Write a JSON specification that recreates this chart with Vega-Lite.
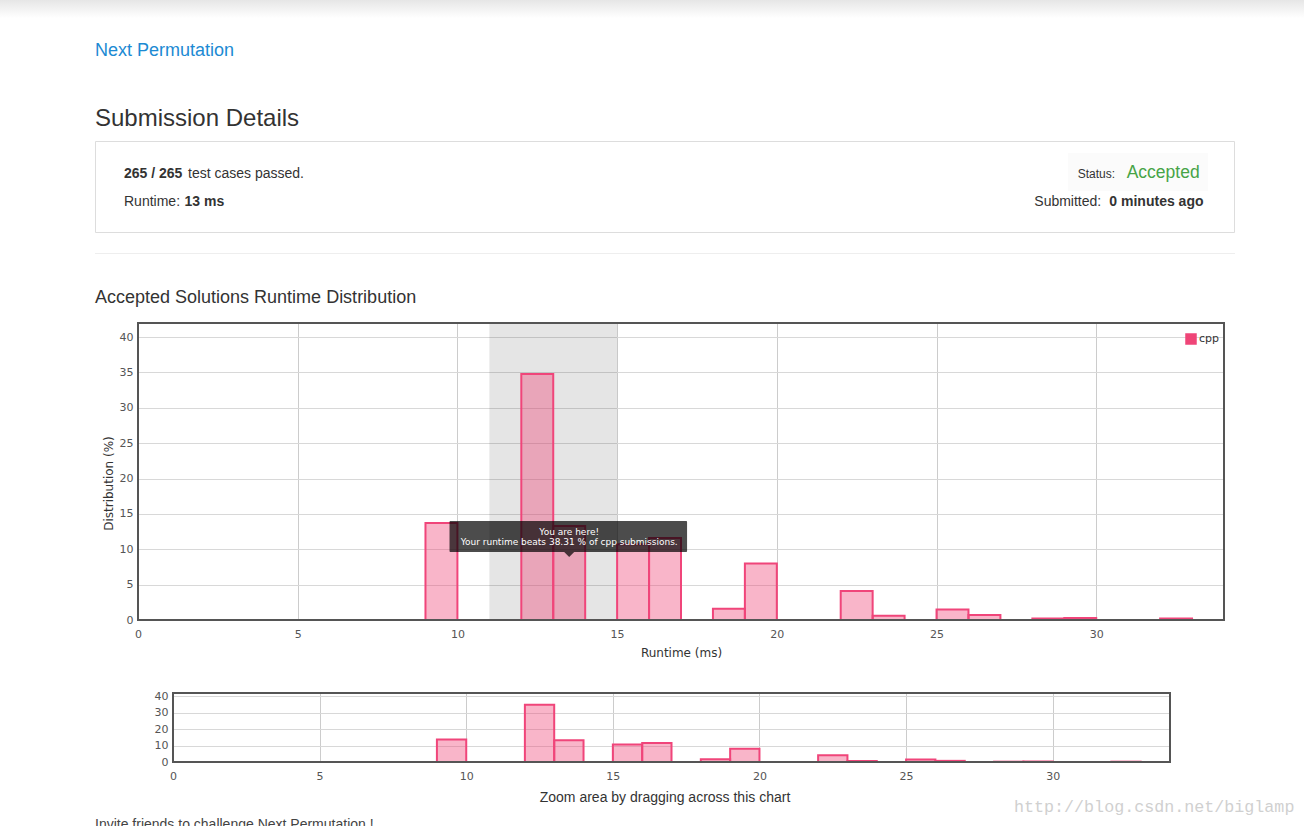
{
  "$schema": "https://vega.github.io/schema/vega-lite/v6.json",
  "padding": 0,
  "background": "white",
  "bounds": "flush",
  "spacing": 73,
  "config": {
    "view": {"stroke": null},
    "axis": {
      "domain": false,
      "ticks": false,
      "labelFont": "DejaVu Sans",
      "labelFontSize": 11,
      "labelColor": "#555555",
      "titleFont": "DejaVu Sans",
      "titleFontSize": 11,
      "titleColor": "#333333",
      "titleFontWeight": "normal",
      "gridColor": "#d8d8d8",
      "gridWidth": 1
    },
    "text": {"font": "Liberation Sans"}
  },
  "datasets": {
    "runtime": [
      {"lang": "cpp", "start": 9, "end": 10, "pct": 13.7},
      {"lang": "cpp", "start": 12, "end": 13, "pct": 34.8},
      {"lang": "cpp", "start": 13, "end": 14, "pct": 13.3},
      {"lang": "cpp", "start": 15, "end": 16, "pct": 10.7},
      {"lang": "cpp", "start": 16, "end": 17, "pct": 11.6},
      {"lang": "cpp", "start": 18, "end": 19, "pct": 1.6},
      {"lang": "cpp", "start": 19, "end": 20, "pct": 8.0},
      {"lang": "cpp", "start": 22, "end": 23, "pct": 4.1},
      {"lang": "cpp", "start": 23, "end": 24, "pct": 0.6},
      {"lang": "cpp", "start": 25, "end": 26, "pct": 1.5},
      {"lang": "cpp", "start": 26, "end": 27, "pct": 0.7},
      {"lang": "cpp", "start": 28, "end": 29, "pct": 0.2},
      {"lang": "cpp", "start": 29, "end": 30, "pct": 0.3},
      {"lang": "cpp", "start": 32, "end": 33, "pct": 0.2}
    ]
  },
  "vconcat": [
    {
      "width": 1086,
      "height": 250,
      "data": {"values": [{}]},
      "layer": [
        {"mark": {"type": "rect", "x": -138, "x2": 1166, "y": 0, "y2": 18,
          "fill": {"gradient": "linear", "x1": 0, "y1": 0, "x2": 0, "y2": 1,
            "stops": [{"offset": 0, "color": "#e6e6e6"}, {"offset": 1, "color": "#ffffff"}]}}, "encoding": {}},
        {"mark": {"type": "text", "text": "Next Permutation", "x": -43, "y": 56, "align": "left", "baseline": "alphabetic", "fontSize": 18, "fill": "#1c8ad3"}, "encoding": {}},
        {"mark": {"type": "text", "text": "Submission Details", "x": -43, "y": 126, "align": "left", "baseline": "alphabetic", "fontSize": 24, "fill": "#333333"}, "encoding": {}},
        {"mark": {"type": "rect", "x": -42.5, "x2": 1096.5, "y": 141.5, "y2": 232.5, "fill": "transparent", "stroke": "#dddddd", "strokeWidth": 1}, "encoding": {}},
        {"mark": {"type": "rect", "x": 930, "x2": 1070, "y": 153, "y2": 191, "fill": "#fbfbfb"}, "encoding": {}},
        {"mark": {"type": "text", "text": "265 / 265", "x": -14, "y": 178, "align": "left", "baseline": "alphabetic", "fontSize": 14, "fontWeight": "bold", "fill": "#333333"}, "encoding": {}},
        {"mark": {"type": "text", "text": "test cases passed.", "x": 50, "y": 178, "align": "left", "baseline": "alphabetic", "fontSize": 14, "fill": "#333333"}, "encoding": {}},
        {"mark": {"type": "text", "text": "Runtime:", "x": -14, "y": 205.5, "align": "left", "baseline": "alphabetic", "fontSize": 14, "fill": "#333333"}, "encoding": {}},
        {"mark": {"type": "text", "text": "13 ms", "x": 46.5, "y": 205.5, "align": "left", "baseline": "alphabetic", "fontSize": 14, "fontWeight": "bold", "fill": "#333333"}, "encoding": {}},
        {"mark": {"type": "text", "text": "Status:", "x": 939.7, "y": 178, "align": "left", "baseline": "alphabetic", "fontSize": 12, "fill": "#333333"}, "encoding": {}},
        {"mark": {"type": "text", "text": "Accepted", "x": 988.7, "y": 178, "align": "left", "baseline": "alphabetic", "fontSize": 17.5, "fill": "#47a447"}, "encoding": {}},
        {"mark": {"type": "text", "text": "Submitted:", "x": 896.3, "y": 205.5, "align": "left", "baseline": "alphabetic", "fontSize": 14, "fill": "#333333"}, "encoding": {}},
        {"mark": {"type": "text", "text": "0 minutes ago", "x": 1065.5, "y": 205.5, "align": "right", "baseline": "alphabetic", "fontSize": 14, "fontWeight": "bold", "fill": "#333333"}, "encoding": {}},
        {"mark": {"type": "rect", "x": -43, "x2": 1097, "y": 253, "y2": 254, "fill": "#eeeeee"}, "encoding": {}},
        {"mark": {"type": "text", "text": "Accepted Solutions Runtime Distribution", "x": -43, "y": 302.5, "align": "left", "baseline": "alphabetic", "fontSize": 18, "fill": "#333333"}, "encoding": {}}
      ]
    },
    {
      "width": 1086,
      "height": 297,
      "layer": [
        {
          "data": {"values": [{}]},
          "mark": {"type": "rect", "fill": "#000000", "fillOpacity": 0.1},
          "encoding": {
            "x": {"datum": 11, "type": "quantitative",
              "scale": {"domain": [0, 34], "nice": false, "zero": false},
              "axis": {"values": [0, 5, 10, 15, 20, 25, 30], "title": "Runtime (ms)", "grid": true, "gridColor": "#cccccc",
                "labelPadding": 8, "labelFlush": false, "labelAngle": 0, "titleFontSize": 12, "titleX": 543, "titleY": 36.5, "titleBaseline": "alphabetic", "titleAlign": "center"}},
            "x2": {"datum": 15}
          }
        },
        {
          "data": {"name": "runtime"},
          "mark": {"type": "rect", "fillOpacity": 0.4, "stroke": "#f0457a", "strokeWidth": 2},
          "encoding": {
            "x": {"field": "start", "type": "quantitative", "scale": {"domain": [0, 34], "nice": false, "zero": false},
              "axis": {"values": [0, 5, 10, 15, 20, 25, 30], "title": "Runtime (ms)", "grid": true, "gridColor": "#cccccc",
                "labelPadding": 8, "labelFlush": false, "labelAngle": 0, "titleFontSize": 12, "titleX": 543, "titleY": 36.5, "titleBaseline": "alphabetic", "titleAlign": "center"}},
            "x2": {"field": "end"},
            "y": {"field": "pct", "type": "quantitative",
              "scale": {"domain": [0, 42], "nice": false},
              "axis": {"values": [0, 5, 10, 15, 20, 25, 30, 35, 40], "title": "Distribution (%)", "grid": true,
                "labelPadding": 5, "labelOverlap": false, "titleFontSize": 12, "titleX": -29.5, "titleY": 160, "titleAngle": 270,
                "titleAlign": "center", "titleBaseline": "middle"}},
            "y2": {"datum": 0},
            "color": {"field": "lang", "type": "nominal", "scale": {"range": ["#ef4577"]},
              "legend": {"title": null, "orient": "none", "legendX": 1047, "legendY": 333, "padding": 0,
                "symbolType": "square", "symbolSize": 100, "symbolOpacity": 1,
                "labelFont": "DejaVu Sans", "labelFontSize": 11, "labelColor": "#333333", "labelOffset": 2,
                "encode": {"symbols": {"update": {"fillOpacity": {"value": 1}, "stroke": {"value": "#c8c8c8"}, "strokeWidth": {"value": 1.5}}}}}}
          }
        },
        {
          "data": {"values": [{}]},
          "mark": {"type": "rect", "fill": "#000000", "fillOpacity": 0.7, "cornerRadius": 1},
          "encoding": {
            "x": {"datum": 9.753, "type": "quantitative",
              "axis": {"values": [0, 5, 10, 15, 20, 25, 30], "title": "Runtime (ms)", "grid": true, "gridColor": "#cccccc",
                "labelPadding": 8, "labelFlush": false, "labelAngle": 0, "titleFontSize": 12, "titleX": 543, "titleY": 36.5, "titleBaseline": "alphabetic", "titleAlign": "center"}},
            "x2": {"datum": 17.19},
            "y": {"datum": 14.0, "type": "quantitative",
              "axis": {"values": [0, 5, 10, 15, 20, 25, 30, 35, 40], "title": "Distribution (%)", "grid": true,
                "labelPadding": 5, "labelOverlap": false, "titleFontSize": 12, "titleX": -29.5, "titleY": 160, "titleAngle": 270,
                "titleAlign": "center", "titleBaseline": "middle"}},
            "y2": {"datum": 9.62}
          }
        },
        {
          "data": {"values": [{}]},
          "mark": {"type": "point", "shape": "M-1,0L1,0L0,1Z", "size": 100, "filled": true, "fill": "#000000", "fillOpacity": 0.7, "strokeWidth": 0},
          "encoding": {
            "x": {"datum": 13.5, "type": "quantitative",
              "axis": {"values": [0, 5, 10, 15, 20, 25, 30], "title": "Runtime (ms)", "grid": true, "gridColor": "#cccccc",
                "labelPadding": 8, "labelFlush": false, "labelAngle": 0, "titleFontSize": 12, "titleX": 543, "titleY": 36.5, "titleBaseline": "alphabetic", "titleAlign": "center"}},
            "y": {"datum": 9.62, "type": "quantitative",
              "axis": {"values": [0, 5, 10, 15, 20, 25, 30, 35, 40], "title": "Distribution (%)", "grid": true,
                "labelPadding": 5, "labelOverlap": false, "titleFontSize": 12, "titleX": -29.5, "titleY": 160, "titleAngle": 270,
                "titleAlign": "center", "titleBaseline": "middle"}}
          }
        },
        {
          "data": {"values": [{}]},
          "mark": {"type": "text", "text": "You are here!", "font": "DejaVu Sans", "fontSize": 9, "fill": "#ffffff", "align": "center", "baseline": "alphabetic"},
          "encoding": {
            "x": {"datum": 13.5, "type": "quantitative",
              "axis": {"values": [0, 5, 10, 15, 20, 25, 30], "title": "Runtime (ms)", "grid": true, "gridColor": "#cccccc",
                "labelPadding": 8, "labelFlush": false, "labelAngle": 0, "titleFontSize": 12, "titleX": 543, "titleY": 36.5, "titleBaseline": "alphabetic", "titleAlign": "center"}},
            "y": {"datum": 12.02, "type": "quantitative",
              "axis": {"values": [0, 5, 10, 15, 20, 25, 30, 35, 40], "title": "Distribution (%)", "grid": true,
                "labelPadding": 5, "labelOverlap": false, "titleFontSize": 12, "titleX": -29.5, "titleY": 160, "titleAngle": 270,
                "titleAlign": "center", "titleBaseline": "middle"}}
          }
        },
        {
          "data": {"values": [{}]},
          "mark": {"type": "text", "text": "Your runtime beats 38.31 % of cpp submissions.", "font": "DejaVu Sans", "fontSize": 9, "fill": "#ffffff", "align": "center", "baseline": "alphabetic"},
          "encoding": {
            "x": {"datum": 13.5, "type": "quantitative",
              "axis": {"values": [0, 5, 10, 15, 20, 25, 30], "title": "Runtime (ms)", "grid": true, "gridColor": "#cccccc",
                "labelPadding": 8, "labelFlush": false, "labelAngle": 0, "titleFontSize": 12, "titleX": 543, "titleY": 36.5, "titleBaseline": "alphabetic", "titleAlign": "center"}},
            "y": {"datum": 10.56, "type": "quantitative",
              "axis": {"values": [0, 5, 10, 15, 20, 25, 30, 35, 40], "title": "Distribution (%)", "grid": true,
                "labelPadding": 5, "labelOverlap": false, "titleFontSize": 12, "titleX": -29.5, "titleY": 160, "titleAngle": 270,
                "titleAlign": "center", "titleBaseline": "middle"}}
          }
        },
        {
          "data": {"values": [{}]},
          "mark": {"type": "rect", "fill": "transparent", "stroke": "#555555", "strokeWidth": 2},
          "encoding": {
            "x": {"datum": 0, "type": "quantitative",
              "axis": {"values": [0, 5, 10, 15, 20, 25, 30], "title": "Runtime (ms)", "grid": true, "gridColor": "#cccccc",
                "labelPadding": 8, "labelFlush": false, "labelAngle": 0, "titleFontSize": 12, "titleX": 543, "titleY": 36.5, "titleBaseline": "alphabetic", "titleAlign": "center"}},
            "x2": {"datum": 34},
            "y": {"datum": 0, "type": "quantitative",
              "axis": {"values": [0, 5, 10, 15, 20, 25, 30, 35, 40], "title": "Distribution (%)", "grid": true,
                "labelPadding": 5, "labelOverlap": false, "titleFontSize": 12, "titleX": -29.5, "titleY": 160, "titleAngle": 270,
                "titleAlign": "center", "titleBaseline": "middle"}},
            "y2": {"datum": 42}
          }
        }
      ]
    },
    {
      "spacing": 0,
      "bounds": "flush",
      "hconcat": [
        {"width": 35, "height": 69, "data": {"values": []}, "mark": "rect", "encoding": {}},
        {
          "width": 997,
          "height": 69,
          "layer": [
            {
              "data": {"name": "runtime"},
              "mark": {"type": "rect", "fillOpacity": 0.4, "stroke": "#f0457a", "strokeWidth": 2},
              "encoding": {
                "x": {"field": "start", "type": "quantitative",
                  "scale": {"domain": [0, 34], "nice": false, "zero": false},
                  "axis": {"values": [0, 5, 10, 15, 20, 25, 30], "title": "Zoom area by dragging across this chart", "grid": true, "gridColor": "#cccccc",
                    "labelPadding": 8, "labelFlush": false, "labelAngle": 0,
                    "titleFont": "Liberation Sans", "titleFontSize": 14, "titleColor": "#333333",
                    "titleX": 491.5, "titleY": 39, "titleBaseline": "alphabetic", "titleAlign": "center"}},
                "x2": {"field": "end"},
                "y": {"field": "pct", "type": "quantitative",
                  "scale": {"domain": [0, 42], "nice": false},
                  "axis": {"values": [0, 10, 20, 30, 40], "title": null, "grid": true, "labelPadding": 5, "labelOverlap": false}},
                "y2": {"datum": 0},
                "color": {"field": "lang", "type": "nominal", "scale": {"range": ["#ef4577"]}, "legend": null}
              }
            },
            {
              "data": {"values": [{}]},
              "mark": {"type": "rect", "fill": "transparent", "stroke": "#555555", "strokeWidth": 2},
              "encoding": {
                "x": {"datum": 0, "type": "quantitative",
                  "axis": {"values": [0, 5, 10, 15, 20, 25, 30], "title": "Zoom area by dragging across this chart", "grid": true, "gridColor": "#cccccc",
                    "labelPadding": 8, "labelFlush": false, "labelAngle": 0,
                    "titleFont": "Liberation Sans", "titleFontSize": 14, "titleColor": "#333333",
                    "titleX": 491.5, "titleY": 39, "titleBaseline": "alphabetic", "titleAlign": "center"}},
                "x2": {"datum": 34},
                "y": {"datum": 0, "type": "quantitative",
                  "axis": {"values": [0, 10, 20, 30, 40], "title": null, "grid": true, "labelPadding": 5, "labelOverlap": false}},
                "y2": {"datum": 42}
              }
            },
            {
              "data": {"values": [{}]},
              "mark": {"type": "text", "text": "http://blog.csdn.net/biglamp", "x": 841, "y": 119, "align": "left", "baseline": "alphabetic", "font": "Liberation Mono", "fontSize": 16.7, "fill": "#d0d0d0"},
              "encoding": {}
            },
            {
              "data": {"values": [{}]},
              "mark": {"type": "text", "text": "Invite friends to challenge Next Permutation !", "x": -78, "y": 136, "align": "left", "baseline": "alphabetic", "fontSize": 14, "fill": "#444444"},
              "encoding": {}
            }
          ]
        }
      ]
    }
  ]
}
